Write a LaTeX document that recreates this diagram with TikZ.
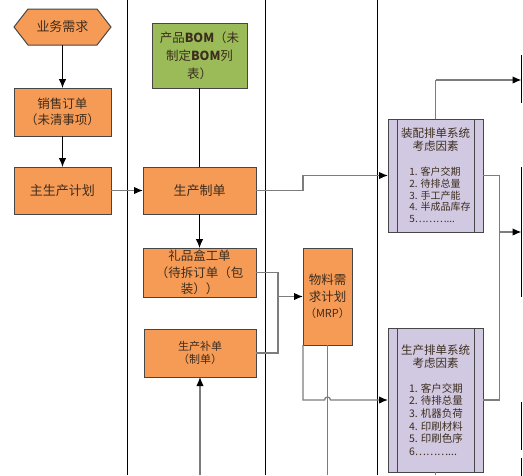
\documentclass[tikz,border=0pt]{standalone}
\usepackage{fontspec}
\setmainfont{Noto Sans CJK SC}
\usetikzlibrary{arrows.meta,backgrounds}
\definecolor{orangef}{RGB}{246,155,86}
\definecolor{greenf}{RGB}{155,187,89}
\definecolor{purplef}{RGB}{209,201,225}
\definecolor{boxline}{RGB}{70,70,70}
\definecolor{txt}{RGB}{60,45,30}
\definecolor{conn}{RGB}{125,125,125}
\begin{document}
\begin{tikzpicture}[x=1pt,y=-1pt,
  every node/.style={inner sep=0pt,outer sep=0pt,text=txt,align=center,font=\fontsize{12.5}{16.5}\selectfont},
  obox/.style={draw=boxline,line width=1pt,fill=orangef},
  gbox/.style={draw=boxline,line width=1pt,fill=greenf},
  pbox/.style={draw=boxline,line width=1pt,fill=purplef,
    path picture={\draw[boxline,line width=1pt]
      ([xshift=9pt]path picture bounding box.north west) -- ([xshift=9pt]path picture bounding box.south west)
      ([xshift=-9pt]path picture bounding box.north east) -- ([xshift=-9pt]path picture bounding box.south east);}},
  rbox/.style={draw=none},
  redge/.style={draw=black,line width=1.5pt},
  lane/.style={draw=black,line width=1pt},
  conn/.style={draw=conn,line width=1.3pt},
  bconn/.style={draw=black,line width=1pt},
  arr/.style={-{Latex[length=9pt,width=7.5pt,color=black,fill=black]}},
  ptitle/.style={font=\fontsize{11.5}{13}\selectfont},
  plist/.style={align=left}
]
\useasboundingbox (0,0) rectangle (523,475);

% lanes
\coordinate (l1t) at (127,0); \coordinate (l1b) at (127,475);
\coordinate (l2t) at (265,0); \coordinate (l2b) at (265,475);
\coordinate (l3t) at (377,0); \coordinate (l3b) at (377,475);
\draw[lane] (l1t) -- (l1b);
\draw[lane] (l2t) -- (l2b);
\draw[lane] (l3t) -- (l3b);

% right boxes (cut off: only their left edges show)
\node[rbox,minimum width=40pt,minimum height=48pt] (r1) at (541.5,79) {};
\node[rbox,minimum width=40pt,minimum height=130pt] (r2) at (541.5,232) {};
\node[rbox,minimum width=40pt,minimum height=48pt] (r3) at (541.5,426) {};
\node[rbox,minimum width=40pt,minimum height=48pt] (r4) at (541.5,482) {};
\draw[redge] (r1.north west) -- (r1.south west);
\draw[redge] (r2.north west) -- (r2.south west);
\draw[redge] (r3.north west) -- (r3.south west);
\draw[redge] (r4.north west) -- (r4.south west);

% hexagon
\node[minimum width=97pt,minimum height=36pt,font=\fontsize{13}{15}\selectfont] (ys) at (62.5,27) {业务需求};
\begin{scope}[on background layer]
\fill[white] (0,0) rectangle (523,475);
\draw[boxline,line width=1pt,fill=orangef] (ys.west) -- ([xshift=14pt]ys.north west) -- ([xshift=-14pt]ys.north east) -- (ys.east) -- ([xshift=-14pt]ys.south east) -- ([xshift=14pt]ys.south west) -- cycle;
\end{scope}

\node[obox,minimum width=97pt,minimum height=48pt] (xs) at (62.5,112) {销售订单\\（未清事项）};
\node[obox,minimum width=97pt,minimum height=47pt,font=\fontsize{13}{15}\selectfont] (zs) at (62.5,190.5) {主生产计划};
\node[gbox,minimum width=95pt,minimum height=65pt,font=\fontsize{12.5}{18}\selectfont] (bom) at (199.5,55.5) {产品\textbf{BOM}（未\\制定\textbf{BOM}列\\表）};
\node[obox,minimum width=113pt,minimum height=47pt,font=\fontsize{13}{15}\selectfont] (zz) at (199.5,190.5) {生产制单};
\node[obox,minimum width=113pt,minimum height=49pt] (lp) at (199.5,272.5) {礼品盒工单\\（待拆订单（包\\装））};
\node[obox,minimum width=112pt,minimum height=48pt,font=\fontsize{11}{12.5}\selectfont] (bd) at (200,353) {生产补单\\（制单）};
\node[obox,minimum width=49pt,minimum height=97pt] (mrp) at (327.5,296.5) {物料需\\求计划\\{\fontsize{11}{16.5}\selectfont（MRP）}};

\node[pbox,minimum width=95pt,minimum height=113pt] (zp) at (435.5,175.5) {};
\node[ptitle] (zpt) at (435.5,139.5) {装配排单系统\\考虑因素};
\node[plist,font=\fontsize{10}{11.6}\selectfont] (zpl) at (440,195) {1. 客户交期\\2. 待排总量\\3. 手工产能\\4. 半成品库存\\5………...};

\node[pbox,minimum width=95pt,minimum height=144pt] (sp) at (435.5,400) {};
\node[ptitle] (spt) at (435.5,356.5) {生产排单系统\\考虑因素};
\node[plist,font=\fontsize{10.5}{12.6}\selectfont] (spl) at (436,419.5) {1. 客户交期\\2. 待排总量\\3. 机器负荷\\4. 印刷材料\\5. 印刷色序\\6………...};

% connectors
\draw[bconn,arr] (ys.south) -- (xs.north);
\draw[bconn,arr] (xs.south) -- (zs.north);
\draw[conn,arr] (zs.east) -- (zz.west);
\draw[bconn] (bom.south) -- (zz.north);
\draw[bconn,arr] (zz.south) -- (lp.north);

\coordinate (j1) at (303,190.5);
\draw[conn,arr] (zz.east) -- (j1) |- (zp.west);

\coordinate (j4) at (435.5,80);
\draw[conn] (zp.north) -- (j4);
\draw[conn,arr] (j4) -- (j4 -| r1.west);

\coordinate (j2) at (499.5,232);
\draw[conn] (zp.east) -| (j2);
\draw[conn] (sp.east) -| (j2);
\draw[conn,arr] (j2) -- (r2.west);

\coordinate (j3) at (278,296.5);
\draw[conn] (lp.east) -| (j3);
\draw[conn] (bd.east) -| (j3);
\draw[conn,arr] (j3) -- (mrp.west);

\coordinate (mb) at (327.5,475);
\draw[conn] (mrp.south) -- (mb);
\draw[conn,arr] (mrp.south west) |- ([xshift=-3pt]mrp.south |- sp.west) arc[start angle=180,end angle=0,radius=3pt] -- (sp.west);

\coordinate (bb) at (200,475);
\draw[conn,arr] (bb) -- (bd.south);

\coordinate (sb) at (435.5,475);
\draw[conn] (sp.south) -- (sb);
\end{tikzpicture}
\end{document}
